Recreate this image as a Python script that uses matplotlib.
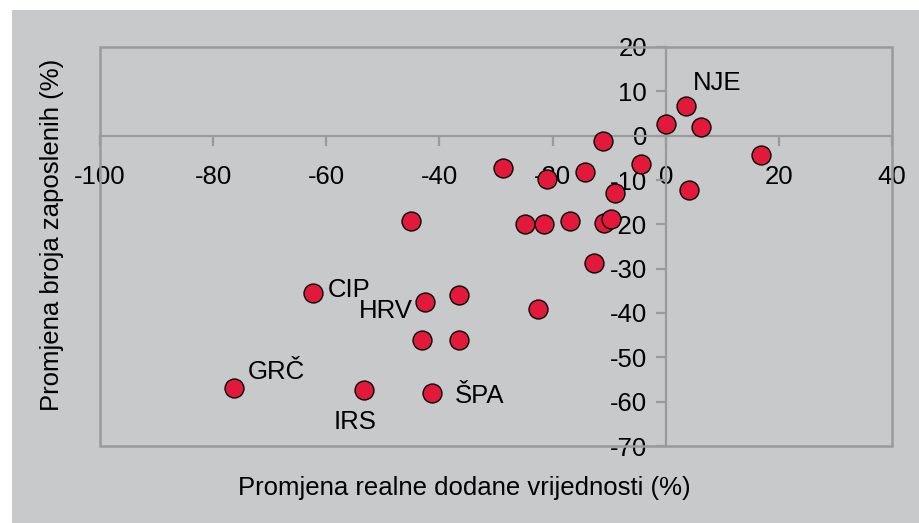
import matplotlib
matplotlib.use("Agg")
import matplotlib.pyplot as plt
from matplotlib.patches import Rectangle

plt.rcParams["font.family"] = ["Liberation Sans", "DejaVu Sans"]

# ── data ───────────────────────────────────────────────────────────────────
gva_change = [3.6, 0.0, 6.3, -11.0, 16.8, -28.7, -14.3, -21.0, -4.3, -9.0,
              4.2, -45.1, -24.8, -21.6, -16.9, -10.9, -9.7, -12.6, -62.4,
              -42.5, -36.5, -43.0, -36.5, -76.3, -53.3, -41.3, -22.5]
emp_change = [6.7, 2.7, 1.9, -1.1, -4.3, -7.3, -8.2, -9.7, -6.3, -12.9,
              -12.3, -19.3, -20.0, -20.0, -19.2, -19.7, -18.7, -28.7, -35.4,
              -37.6, -35.9, -46.1, -46.0, -56.9, -57.4, -58.1, -39.1]
labels = ["NJE", "", "", "", "", "", "", "", "", "",
          "", "", "", "", "", "", "", "", "CIP",
          "HRV", "", "", "", "GRČ", "IRS", "ŠPA", ""]
# label placement: (dx, dy) in points, horizontal alignment
label_pos = {"NJE": (5, 16.5, "left"), "CIP": (11, 2, "left"),
             "HRV": (-9, -6, "right"), "GRČ": (10, 11.5, "left"),
             "IRS": (-6.5, -23, "center"), "ŠPA": (16.5, -2, "left")}

x_ticks = [-100, -80, -60, -40, -20, 0, 20, 40]
y_ticks = [20, 10, 0, -10, -20, -30, -40, -50, -60, -70]

BG = "#c8c9cb"
LINE = "#999a9c"
RED = "#e2193a"
FS = 18.5

fig = plt.figure(figsize=(9.19, 5.23), dpi=100, facecolor="white")
fig.patches.append(Rectangle((12 / 919, 0), 1, 1 - 10 / 523, transform=fig.transFigure,
                             facecolor=BG, edgecolor="none", zorder=-10))

ax = fig.add_axes([100 / 919, 1 - 446 / 523, (892 - 100) / 919, (446 - 47) / 523])
ax.set_facecolor(BG)
ax.set_xlim(-100, 40)
ax.set_ylim(-70, 20)

# crossing axes at the origin, outer frame drawn separately
for s in ["top", "right"]:
    ax.spines[s].set_visible(False)
ax.spines["left"].set_position(("data", 0))
ax.spines["bottom"].set_position(("data", 0))
for s in ["left", "bottom"]:
    ax.spines[s].set_color(LINE)
    ax.spines[s].set_linewidth(1.6)
ax.add_patch(Rectangle((0, 0), 1, 1, transform=ax.transAxes, fill=False,
                       edgecolor=LINE, linewidth=1.8, clip_on=False, zorder=2))

ax.set_xticks(x_ticks)
ax.set_yticks(y_ticks)
ax.set_xticklabels([str(t) for t in x_ticks])
ax.set_yticklabels([str(t) for t in y_ticks])
ax.tick_params(axis="x", direction="out", length=7, width=1.6, color=LINE,
               labelsize=FS, pad=14)
ax.tick_params(axis="y", direction="out", length=7, width=1.6, color=LINE,
               labelsize=FS, pad=6.5)

ax.scatter(gva_change, emp_change, s=185, color=RED, edgecolor="black",
           linewidth=1.0, zorder=5, clip_on=False)

for x, y, name in zip(gva_change, emp_change, labels):
    if not name:
        continue
    dx, dy, ha = label_pos[name]
    ax.annotate(name, (x, y), xytext=(dx, dy), textcoords="offset points",
                ha=ha, va="center", fontsize=FS, zorder=6)

fig.text(464 / 919, 1 - 488 / 523, "Promjena realne dodane vrijednosti (%)",
         ha="center", va="center", fontsize=FS)
fig.text(52 / 919, 1 - 235 / 523, "Promjena broja zaposlenih (%)",
         ha="center", va="center", rotation=90, fontsize=FS)

fig.savefig("out.png", dpi=100, facecolor=fig.get_facecolor())
